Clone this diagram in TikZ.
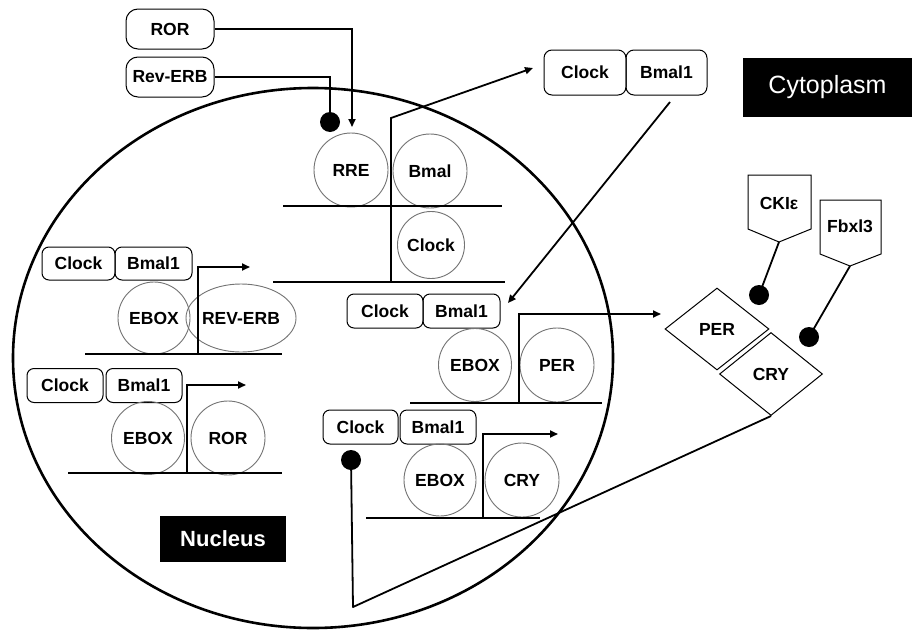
\documentclass[tikz,border=0pt]{standalone}
\usepackage{fontspec}
\setmainfont{Liberation Sans}
\usetikzlibrary{shapes.geometric,arrows.meta,calc}
\tikzset{
  lbl/.style={font=\fontsize{17.5}{19}\selectfont\bfseries},
  rbox/.style={draw, line width=1pt, rounded corners=7pt, lbl, inner sep=0pt, minimum width=76pt, minimum height=34pt},
  gene/.style={draw=black!55, line width=0.9pt, circle, lbl, inner sep=0pt, minimum size=73pt},
  base/.style={line width=1.8pt},
  arr/.style={line width=1.8pt, -{Triangle[length=8pt,width=7pt]}},
  dot/.style={circle, fill=black, inner sep=0pt, minimum size=20pt},
  tag/.style={fill=black, text=white, inner sep=0pt},
  cplx/.style={draw, line width=1pt, diamond, lbl, inner sep=0pt, minimum width=104pt, minimum height=82pt},
  tagbox/.style={draw, line width=1pt, line join=miter},
}
\begin{document}
\begin{tikzpicture}[x=1pt,y=-1pt]
\useasboundingbox (0,0) rectangle (912,629);
\fill[white] (0,0) rectangle (912,629);

% nucleus
\draw[line width=2.6pt] (313,358) ellipse [x radius=300pt, y radius=270pt];
\node[tag, minimum width=126pt, minimum height=46pt, font=\fontsize{22}{24}\selectfont\bfseries] (nuc) at (223,539) {Nucleus};
\node[tag, minimum width=169pt, minimum height=59pt, font=\fontsize{25}{27}\selectfont] (cyto) at (827.5,87.5) {Cytoplasm};

% ROR / Rev-ERB inputs
\node[rbox, minimum width=88pt, minimum height=40pt, rounded corners=12pt] (ror) at (170,29) {ROR};
\node[rbox, minimum width=88pt, minimum height=40pt, rounded corners=12pt] (reverb) at (170,77) {Rev-ERB};
\node[dot] (d1) at (330,122) {};

% Bmal1 promoter
\node[gene, minimum size=74pt] (rre) at (351,170) {RRE};
\node[gene, minimum size=74pt] (bmalg) at (430,171) {Bmal};
\node[gene, minimum size=67pt] (clockg) at (431,245) {Clock};
\coordinate (rrein) at (352,127);
\draw[arr] (ror.east) -| (rrein);
\draw[base] (reverb.east) -| (d1.north);
\coordinate (l1a) at (283,206); \coordinate (l1b) at (502,206);
\coordinate (l2a) at (273,282); \coordinate (l2b) at (505,282);
\draw[base] (l1a) -- (l1b);
\draw[base] (l2a) -- (l2b);
\coordinate (p0) at (391,282); \coordinate (p0t) at (391,118);

% cytoplasmic Clock/Bmal1
\node[rbox, minimum width=82pt, minimum height=45pt, rounded corners=8pt] (tclock) at (585,72.5) {Clock};
\node[rbox, minimum width=81pt, minimum height=45pt, rounded corners=8pt] (tbmal) at (666.5,72.5) {Bmal1};
\coordinate (a0) at (533,68);
\draw[arr] (p0) -- (p0t) -- (a0);

% REV-ERB gene
\node[rbox, minimum width=73pt, minimum height=33pt] (c1) at (78.5,263.5) {Clock};
\node[rbox, minimum width=77pt, minimum height=33pt] (b1) at (153.5,263.5) {Bmal1};
\node[gene, minimum size=72pt] (e1) at (154,318) {EBOX};
\node[draw=black!55, line width=0.9pt, ellipse, lbl, inner sep=0pt, minimum width=84pt, minimum height=68pt] (g1) at (241,318) {REV-ERB};
\coordinate (s1a) at (85,354); \coordinate (s1b) at (282,354);
\draw[base] (s1a) -- (s1b);
\coordinate (p1) at (198,354); \coordinate (p1t) at (198,267); \coordinate (a1) at (250,267);
\draw[arr] (p1) -- (p1t) -- (a1);

% ROR gene
\node[rbox] (c2) at (65,385.5) {Clock};
\node[rbox] (b2) at (144,385.5) {Bmal1};
\node[gene] (e2) at (148,438) {EBOX};
\node[gene, minimum size=74pt] (g2) at (228,438) {ROR};
\coordinate (s2a) at (68,473); \coordinate (s2b) at (282,473);
\draw[base] (s2a) -- (s2b);
\coordinate (p2) at (187,473); \coordinate (p2t) at (187,385); \coordinate (a2) at (246,385);
\draw[arr] (p2) -- (p2t) -- (a2);

% PER gene
\node[rbox] (c3) at (385,311) {Clock};
\node[rbox, minimum width=77pt] (b3) at (461.5,311) {Bmal1};
\node[gene] (e3) at (475,365) {EBOX};
\node[gene, minimum size=74pt] (g3) at (557,365) {PER};
\coordinate (s3a) at (410,403); \coordinate (s3b) at (602,403);
\draw[base] (s3a) -- (s3b);
\coordinate (p3) at (519,403); \coordinate (p3t) at (519,314); \coordinate (a3) at (661,314);
\draw[arr] (p3) -- (p3t) -- (a3);

% Bmal1 import
\coordinate (imp0) at (670,102); \coordinate (imp1) at (508,303);
\draw[arr] (imp0) -- (imp1);

% CRY gene
\node[rbox, minimum width=75pt] (c4) at (360.5,427) {Clock};
\node[rbox] (b4) at (438,427) {Bmal1};
\node[gene, minimum size=72pt] (e4) at (440,480) {EBOX};
\node[gene, minimum size=74pt] (g4) at (522,480) {CRY};
\coordinate (s4a) at (366,518); \coordinate (s4b) at (540,518);
\draw[base] (s4a) -- (s4b);
\coordinate (p4) at (483,518); \coordinate (p4t) at (483,434); \coordinate (a4) at (558,434);
\draw[arr] (p4) -- (p4t) -- (a4);

% PER/CRY complex
\node[cplx] (perc) at (717,329) {PER};
\node[cplx, minimum width=103pt, minimum height=83pt] (cryc) at (771,374) {CRY};
\node[dot] (d2) at (351,460) {};
\coordinate (fb) at (353,607);
\draw[base, line join=round] (cryc.south) -- (fb) -- (d2.center);

% kinases
\draw[tagbox] (748,175) -- (811,175) -- (811,229) -- (779,242) -- (748,229) -- cycle;
\coordinate (ckt) at (779,242);
\node[lbl] (cki) at (779,203) {CKIε};
\draw[tagbox] (820,200) -- (881,200) -- (881,254) -- (850,266) -- (820,254) -- cycle;
\coordinate (fbt) at (850,266);
\node[lbl] (fbx) at (850,226) {Fbxl3};
\node[dot] (d3) at (759,295) {};
\node[dot] (d4) at (809,337) {};
\draw[base] (ckt) -- (d3.center);
\draw[base] (fbt) -- (d4.center);
\end{tikzpicture}
\end{document}
